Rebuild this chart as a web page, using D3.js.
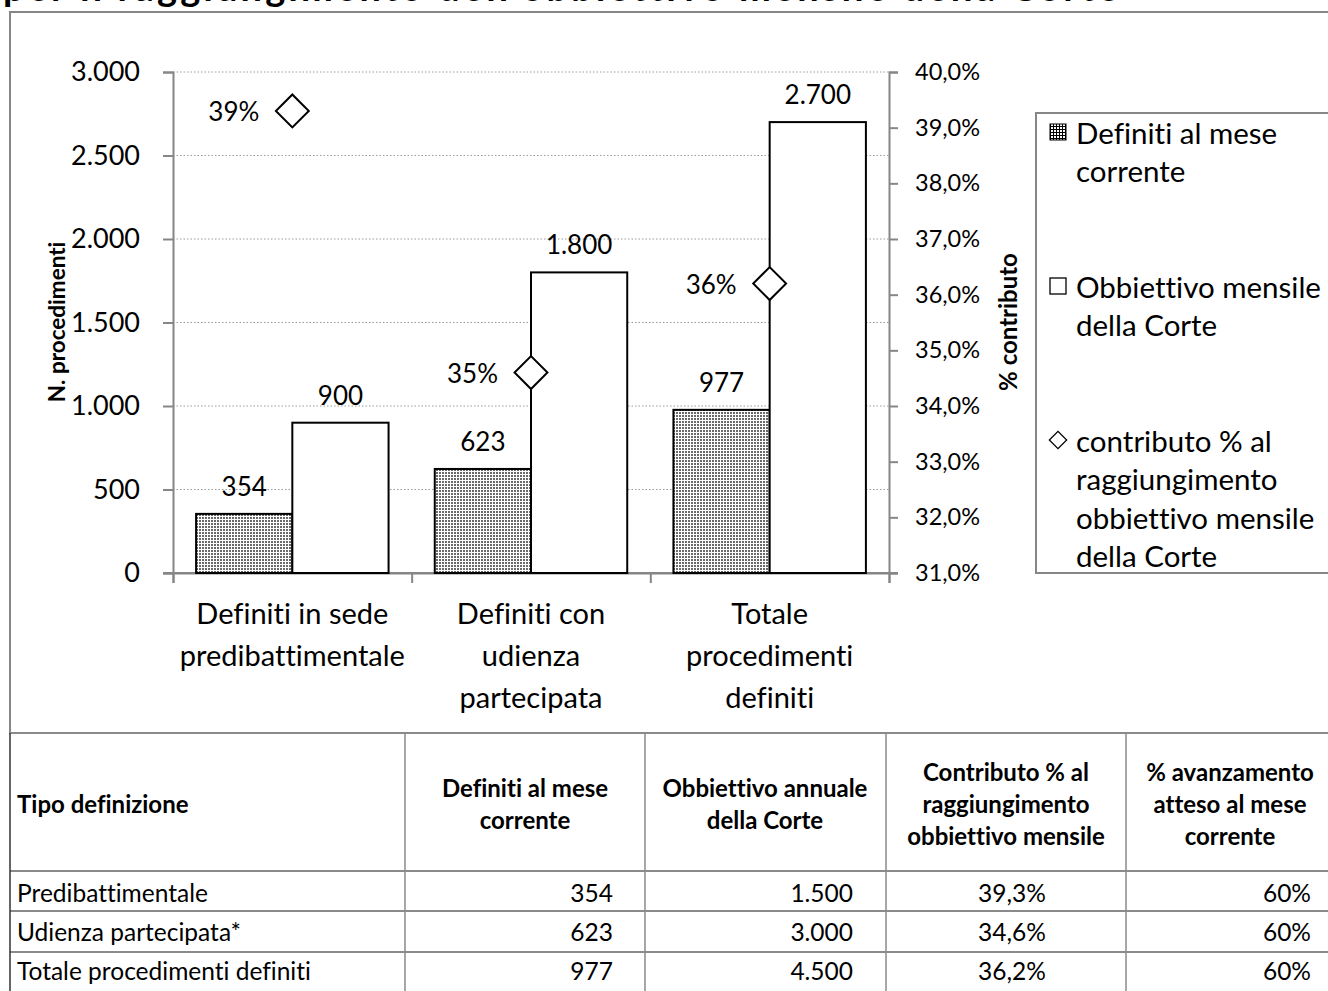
<!DOCTYPE html>
<html>
<head>
<meta charset="utf-8">
<script src="https://cdn.jsdelivr.net/npm/d3@7"></script>
<style>
  html, body { margin: 0; padding: 0; background: #fff; }
  svg { display: block; }
  text { font-family: Lato, "Open Sans", sans-serif; fill: #000; font-variant-ligatures: none; font-feature-settings: "liga" 0, "clig" 0; }
</style>
</head>
<body>
<svg id="chart" width="1328" height="991"></svg>
<script>
// ---------------- DATA ----------------
const categories = [
  ["Definiti in sede", "predibattimentale"],
  ["Definiti con", "udienza", "partecipata"],
  ["Totale", "procedimenti", "definiti"]
];
const seriesNames = ["Definiti al mese corrente", "Obbiettivo mensile della Corte"];
const definiti = [354, 623, 977];
const obiettivoMensile = [900, 1800, 2700];
const contributo = [0.393, 0.346, 0.362];
const contributoLabels = ["39%", "35%", "36%"];
const leftTicks = [0, 500, 1000, 1500, 2000, 2500, 3000];
const rightTicks = [0.31, 0.32, 0.33, 0.34, 0.35, 0.36, 0.37, 0.38, 0.39, 0.40];
const legendItems = [
  ["Definiti al mese", "corrente"],
  ["Obbiettivo mensile", "della Corte"],
  ["contributo % al", "raggiungimento", "obbiettivo mensile", "della Corte"]
];
const tableHeader = [
  ["Tipo definizione"],
  ["Definiti al mese", "corrente"],
  ["Obbiettivo annuale", "della Corte"],
  ["Contributo % al", "raggiungimento", "obbiettivo mensile"],
  ["% avanzamento", "atteso al mese", "corrente"]
];
const tableRows = [
  ["Predibattimentale", "354", "1.500", "39,3%", "60%"],
  ["Udienza partecipata*", "623", "3.000", "34,6%", "60%"],
  ["Totale procedimenti definiti", "977", "4.500", "36,2%", "60%"]
];
const titleText = "per il raggiungimento dell\u2019obbiettivo mensile della Corte";

// ---------------- SETUP ----------------
const svg = d3.select("#chart");
const fmtInt = v => d3.format(",")(v).replace(/,/g, ".");
const fmtPct1 = v => d3.format(".1%")(v).replace(".", ",");

const defs = svg.append("defs");
const pat = defs.append("pattern").attr("id", "dots")
  .attr("patternUnits", "userSpaceOnUse").attr("width", 3).attr("height", 3);
pat.append("rect").attr("width", 3).attr("height", 3).attr("fill", "#fff");
pat.append("rect").attr("x", 1).attr("y", 1).attr("width", 2).attr("height", 2).attr("fill", "#6a6a6a");
const pat2 = defs.append("pattern").attr("id", "grid")
  .attr("patternUnits", "userSpaceOnUse").attr("width", 3).attr("height", 3);
pat2.append("rect").attr("width", 3).attr("height", 3).attr("fill", "#000");
pat2.append("rect").attr("x", 1).attr("y", 1).attr("width", 2).attr("height", 2).attr("fill", "#fff");

svg.append("rect").attr("width", 1328).attr("height", 991).attr("fill", "#fff");

// Title (cut off at top)
svg.append("text").attr("x", 3).attr("y", 1)
  .attr("font-weight", "bold").attr("font-size", 38)
  .attr("textLength", 1115).attr("lengthAdjust", "spacing")
  .text(titleText);

// Chart frame
const frameColor = "#868686";
svg.append("rect").attr("x", 10).attr("y", 12).attr("width", 1340).attr("height", 721)
  .attr("fill", "#fff").attr("stroke", frameColor).attr("stroke-width", 2);

// ---------------- SCALES ----------------
const plotLeft = 173, plotRight = 889, plotTop = 72, plotBottom = 573;
const y = d3.scaleLinear().domain([0, 3000]).range([plotBottom, plotTop]);
const y2 = d3.scaleLinear().domain([0.31, 0.40]).range([plotBottom, plotTop]);
const x = d3.scaleBand().domain(d3.range(categories.length)).range([plotLeft, plotRight]);
const x1 = d3.scaleBand().domain([0, 1]).range([0, x.bandwidth()]).paddingInner(0).paddingOuter(0.24);

const g = svg.append("g");

// Gridlines
g.append("g").selectAll("line").data(leftTicks.filter(t => t > 0)).join("line")
  .attr("x1", plotLeft).attr("x2", plotRight)
  .attr("y1", d => y(d)).attr("y2", d => y(d))
  .attr("stroke", "#9a9a9a").attr("stroke-width", 1).attr("stroke-dasharray", "1.5,2");

// Left axis
const axL = g.append("g").attr("transform", `translate(${plotLeft},0)`)
  .call(d3.axisLeft(y).tickValues(leftTicks).tickFormat(fmtInt).tickSize(10).tickPadding(23));
axL.select(".domain").attr("stroke", frameColor).attr("stroke-width", 2);
axL.selectAll(".tick line").attr("stroke", frameColor).attr("stroke-width", 2);
axL.selectAll(".tick text").attr("font-family", "Lato").attr("font-size", 27).attr("fill", "#000");

// Right axis
const axR = g.append("g").attr("transform", `translate(${plotRight},0)`)
  .call(d3.axisRight(y2).tickValues(rightTicks).tickFormat(fmtPct1).tickSize(9).tickPadding(17));
axR.select(".domain").attr("stroke", frameColor).attr("stroke-width", 2);
axR.selectAll(".tick line").attr("stroke", frameColor).attr("stroke-width", 2);
axR.selectAll(".tick text").attr("font-family", "Lato").attr("font-size", 23.5).attr("fill", "#000");

// Bottom axis
const xb = d3.scaleLinear().domain([0, categories.length]).range([plotLeft, plotRight]);
const axB = g.append("g").attr("transform", `translate(0,${plotBottom})`)
  .call(d3.axisBottom(xb).tickValues(d3.range(categories.length + 1)).tickFormat("").tickSize(10));
axB.select(".domain").attr("stroke", frameColor).attr("stroke-width", 2);
axB.selectAll(".tick line").attr("stroke", frameColor).attr("stroke-width", 2);
g.append("line").attr("x1", plotLeft - 10).attr("x2", plotRight + 9)
  .attr("y1", plotBottom).attr("y2", plotBottom).attr("stroke", frameColor).attr("stroke-width", 2);

// Bars
const barData = [];
categories.forEach((c, i) => {
  barData.push({ i, s: 0, v: definiti[i] });
  barData.push({ i, s: 1, v: obiettivoMensile[i] });
});
g.append("g").selectAll("rect").data(barData).join("rect")
  .attr("x", d => x(d.i) + x1(d.s))
  .attr("width", x1.bandwidth())
  .attr("y", d => y(d.v))
  .attr("height", d => y(0) - y(d.v))
  .attr("fill", d => d.s === 0 ? "url(#dots)" : "#fff")
  .attr("stroke", "#000").attr("stroke-width", 2);

// Bar labels
g.append("g").selectAll("text").data(barData).join("text")
  .attr("x", d => x(d.i) + x1(d.s) + x1.bandwidth() / 2)
  .attr("y", d => y(d.v) - 28)
  .attr("text-anchor", "middle").attr("dominant-baseline", "central")
  .attr("font-size", 26)
  .text(d => fmtInt(d.v));

// Diamonds
const diamond = d3.symbol().type(d3.symbolSquare).size(540);
const dg = g.append("g").selectAll("g").data(contributo).join("g")
  .attr("transform", (d, i) => `translate(${x(i) + x.bandwidth() / 2},${y2(d)})`);
dg.append("path").attr("d", diamond).attr("transform", "rotate(45)")
  .attr("fill", "#fff").attr("stroke", "#000").attr("stroke-width", 2);
dg.append("text").attr("x", -33).attr("y", 0)
  .attr("text-anchor", "end").attr("dominant-baseline", "central")
  .attr("font-size", 26)
  .text((d, i) => contributoLabels[i]);

// Category labels
const catG = g.append("g").selectAll("text").data(categories).join("text")
  .attr("text-anchor", "middle").attr("font-size", 29);
catG.selectAll("tspan").data((d, i) => d.map(t => ({ t, i }))).join("tspan")
  .attr("x", d => x(d.i) + x.bandwidth() / 2)
  .attr("y", (d, j) => 612 + j * 42)
  .attr("dominant-baseline", "central")
  .text(d => d.t);

// Axis titles
g.append("text").attr("transform", "translate(56,322) rotate(-90)")
  .attr("text-anchor", "middle").attr("dominant-baseline", "central")
  .attr("font-weight", "bold").attr("font-size", 22.5).text("N. procedimenti");
g.append("text").attr("transform", "translate(1007,322) rotate(-90)")
  .attr("text-anchor", "middle").attr("dominant-baseline", "central")
  .attr("font-weight", "bold").attr("font-size", 24).text("% contributo");

// Legend
const lg = svg.append("g");
lg.append("rect").attr("x", 1036).attr("y", 113).attr("width", 320).attr("height", 460)
  .attr("fill", "#fff").attr("stroke", frameColor).attr("stroke-width", 2);
const legendY = [132, 286, 440];
legendItems.forEach((lines, k) => {
  lines.forEach((t, j) => {
    lg.append("text").attr("x", 1076).attr("y", legendY[k] + j * 38.5)
      .attr("dominant-baseline", "central").attr("font-size", 29.5).text(t);
  });
});
lg.append("rect").attr("x", 1050).attr("y", legendY[0] - 8).attr("width", 16).attr("height", 16)
  .attr("fill", "url(#grid)").attr("stroke", "#000").attr("stroke-width", 1);
lg.append("rect").attr("x", 1050).attr("y", legendY[1] - 8).attr("width", 16).attr("height", 16)
  .attr("fill", "#fff").attr("stroke", "#000").attr("stroke-width", 1.3);
lg.append("path").attr("d", d3.symbol().type(d3.symbolSquare).size(150))
  .attr("transform", `translate(1058,${legendY[2]}) rotate(45)`)
  .attr("fill", "#fff").attr("stroke", "#000").attr("stroke-width", 1.3);

// ---------------- TABLE ----------------
const tg = svg.append("g");
const colX = [10, 405, 645, 886, 1126];
const rowY = [733, 871, 911, 952, 993];
const lineColor = "#8a8a8a";
rowY.forEach(yy => tg.append("line").attr("x1", 10).attr("x2", 1328).attr("y1", yy).attr("y2", yy)
  .attr("stroke", lineColor).attr("stroke-width", 2));
colX.forEach(xx => tg.append("line").attr("x1", xx).attr("x2", xx).attr("y1", 733).attr("y2", 991)
  .attr("stroke", xx === 10 ? "#333" : lineColor).attr("stroke-width", 1.5));

const headerCx = [17, 525, 765, 1006, 1230];
tableHeader.forEach((lines, c) => {
  const n = lines.length;
  lines.forEach((t, j) => {
    tg.append("text")
      .attr("x", headerCx[c])
      .attr("y", 803 + (j - (n - 1) / 2) * 32)
      .attr("text-anchor", c === 0 ? "start" : "middle")
      .attr("dominant-baseline", "central")
      .attr("font-weight", "bold").attr("font-size", 24).text(t);
  });
});
const rowCy = [892, 931, 970];
const cellX = [17, 613, 853, 1012, 1311];
const cellAnchor = ["start", "end", "end", "middle", "end"];
tableRows.forEach((row, r) => {
  row.forEach((t, c) => {
    tg.append("text").attr("x", cellX[c]).attr("y", rowCy[r])
      .attr("text-anchor", cellAnchor[c]).attr("dominant-baseline", "central")
      .attr("font-size", 24.5).text(t);
  });
});
</script>
</body>
</html>
